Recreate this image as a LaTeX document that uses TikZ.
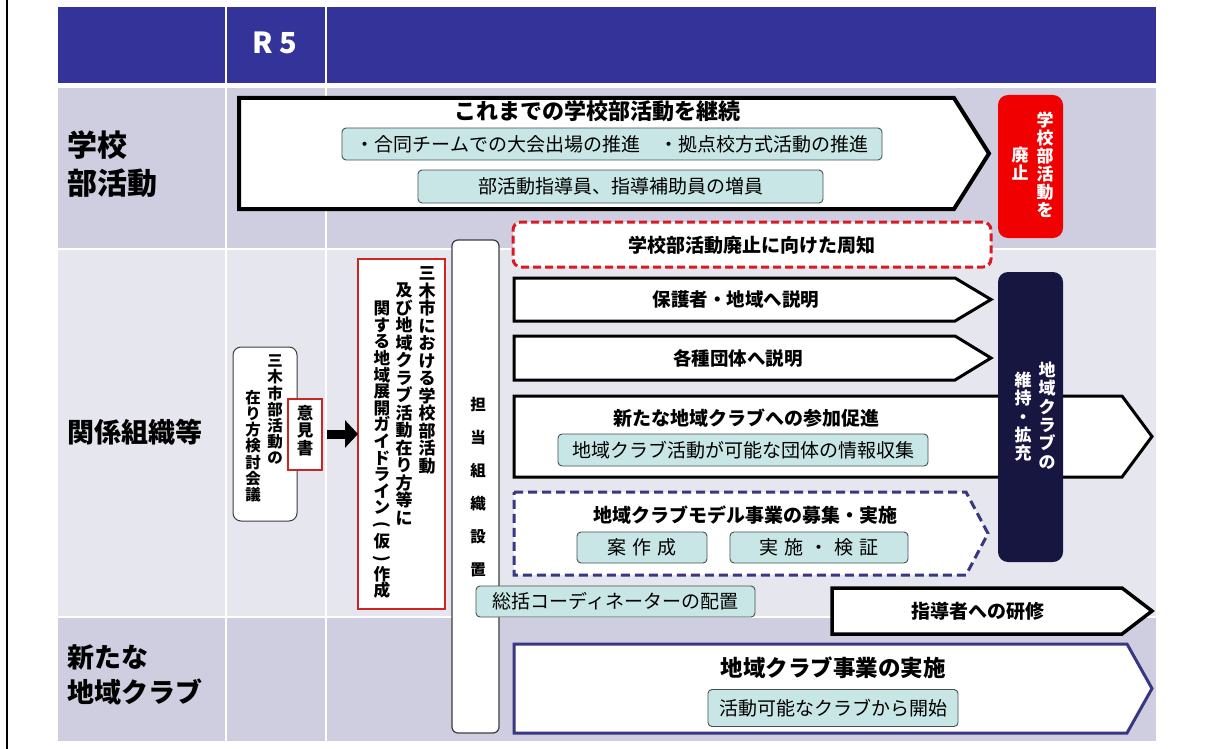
\documentclass[tikz,border=0pt]{standalone}
\usepackage{graphicx}
\usepackage{fontspec}
\setmainfont{Noto Sans CJK JP}
\usetikzlibrary{arrows.meta}
\definecolor{hdr}{RGB}{51,51,153}
\definecolor{rowA}{RGB}{206,206,224}
\definecolor{rowB}{RGB}{230,230,239}
\definecolor{tealf}{RGB}{200,230,230}
\definecolor{tealb}{RGB}{70,80,80}
\definecolor{redbox}{RGB}{240,0,0}
\definecolor{navybox}{RGB}{22,22,64}
\definecolor{navyline}{RGB}{55,55,130}
\definecolor{reddash}{RGB}{220,25,35}
\definecolor{redline}{RGB}{205,35,35}
\definecolor{grayline}{RGB}{60,60,60}
\newcommand{\vparo}{\rotatebox[origin=c]{-90}{(}}
\newcommand{\vparc}{\rotatebox[origin=c]{-90}{)}}
\begin{document}
\begin{tikzpicture}[x=1pt,y=-1pt,
  every node/.style={inner sep=0pt, outer sep=0pt},
  tealbox/.style={draw=tealb, fill=tealf, line width=0.9pt, rounded corners=4pt, font=\fontsize{19}{19}\selectfont},
  arrowshape/.style={draw=black, fill=white, line width=3pt, line join=miter},
  btitle/.style={font=\fontsize{19}{19}\selectfont\bfseries},
  vtxt/.style={align=center, anchor=north},
  rowlabel/.style={anchor=west, align=left, font=\fontsize{27}{35}\selectfont\bfseries},
]
\useasboundingbox (0,0) rectangle (1215,749);
\fill[white] (0,0) rectangle (1215,749);

% header and rows
\fill[hdr] (58,7) rectangle (1156,83);
\fill[rowA] (58,88) rectangle (1156,248);
\fill[rowB] (58,250) rectangle (1156,616);
\fill[rowA] (58,618) rectangle (1156,741);
\draw[white, line width=2pt] (225.5,7) -- (225.5,741) (326,7) -- (326,741);
\node[text=white, font=\fontsize{29}{29}\selectfont\bfseries] (r5) at (275,43) {R 5};

% row labels
\node[rowlabel, font=\fontsize{30}{38}\selectfont\bfseries] (lab1) at (67,164) {学校\\部活動};
\node[rowlabel] (lab2) at (67,432) {関係組織等};
\node[rowlabel] (lab3) at (67,675) {新たな\\地域クラブ};

% row 1
\draw[arrowshape, line width=4pt] (239,98) -- (954,98) -- (989,153.5) -- (954,209) -- (239,209) -- cycle;
\node[font=\fontsize{22}{22}\selectfont\bfseries] (cont) at (597,111) {これまでの学校部活動を継続};
\node[tealbox, minimum width=540pt, minimum height=32pt] (t1) at (612,144) {・合同チームでの大会出場の推進　・拠点校方式活動の推進};
\node[tealbox, minimum width=405pt, minimum height=33pt] (t2) at (620.5,186.5) {部活動指導員、指導補助員の増員};
\node[fill=redbox, rounded corners=10pt, minimum width=65pt, minimum height=143pt] (haishi) at (1030.5,166.5) {};
\node[vtxt, text=white, font=\fontsize{17}{18}\selectfont\bfseries] (haishiA) at (1045,112) {学\\校\\部\\活\\動\\を};
\node[vtxt, text=white, font=\fontsize{17}{18}\selectfont\bfseries] (haishiB) at (1020,147) {廃\\止};

% row 2
\node[draw=reddash, dash pattern=on 8pt off 4pt, line width=3pt, fill=white, rounded corners=8pt, minimum width=478pt, minimum height=45pt] (shuchi) at (752,244.5) {};
\node[btitle] (shuchiT) at (752,245) {学校部活動廃止に向けた周知};

\draw[arrowshape] (514,278) -- (955,278) -- (991,299.5) -- (955,321) -- (514,321) -- cycle;
\node[btitle, font=\fontsize{18.5}{18.5}\selectfont\bfseries] (hogo) at (736,300) {保護者・地域へ説明};
\draw[arrowshape] (514,336) -- (955,336) -- (991,358) -- (955,380) -- (514,380) -- cycle;
\node[btitle, font=\fontsize{18.5}{18.5}\selectfont\bfseries] (dantai) at (738,358) {各種団体へ説明};
\draw[arrowshape] (514,396) -- (1122,396) -- (1152,436.5) -- (1122,477) -- (514,477) -- cycle;
\node[btitle] (sanka) at (746,418) {新たな地域クラブへの参加促進};
\node[tealbox, minimum width=370pt, minimum height=32pt] (joho) at (743,450) {地域クラブ活動が可能な団体の情報収集};

\node[fill=navybox, rounded corners=10pt, minimum width=65pt, minimum height=290pt] (iji) at (1030.5,417) {};
\node[vtxt, text=white, font=\fontsize{17}{18.3}\selectfont\bfseries] (ijiA) at (1047,362) {地\\域\\ク\\ラ\\ブ\\の};
\node[vtxt, text=white, font=\fontsize{17}{18.3}\selectfont\bfseries] (ijiB) at (1023,372) {維\\持\\・\\拡\\充};

\draw[draw=navyline, fill=white, line width=3pt, dash pattern=on 9pt off 5pt] (514,492) -- (966,492) -- (988,533.5) -- (966,575) -- (514,575) -- cycle;
\node[btitle] (model) at (745,515) {地域クラブモデル事業の募集・実施};
\node[tealbox, minimum width=130pt, minimum height=31pt] (an) at (642,547.5) {案\hspace{6pt}作\hspace{6pt}成};
\node[tealbox, minimum width=178pt, minimum height=31pt] (jisshi) at (819,547.5) {実\hspace{6pt}施\hspace{6pt}・\hspace{6pt}検\hspace{6pt}証};

% tanto box
\node[draw=grayline, fill=white, line width=1.2pt, rounded corners=6pt, minimum width=47pt, minimum height=493pt] (tanto) at (475.5,486.5) {};
\node[vtxt, font=\fontsize{15.5}{33}\selectfont\bfseries] (tantoT) at (478,397) {担\\当\\組\\織\\設\\置};
\node[tealbox, minimum width=279pt, minimum height=31pt] (sokatsu) at (615.5,601.5) {総括コーディネーターの配置};

\draw[arrowshape, line width=3.5pt] (832,588) -- (1122,588) -- (1152,611) -- (1122,634) -- (832,634) -- cycle;
\node[btitle] (kenshu) at (978,611) {指導者への研修};

% row 3
\draw[draw=navyline, fill=white, line width=3pt, line join=miter] (514,644) -- (1127,644) -- (1152,688.5) -- (1127,733) -- (514,733) -- cycle;
\node[font=\fontsize{22.5}{22.5}\selectfont\bfseries] (jigyo) at (833,668) {地域クラブ事業の実施};
\node[tealbox, minimum width=250pt, minimum height=37pt] (kaishi) at (833,708) {活動可能なクラブから開始};

% left column of row 2
\node[draw=grayline, fill=white, line width=1pt, rounded corners=8pt, minimum width=64pt, minimum height=174pt] (kento) at (265,434) {};
\node[vtxt, font=\fontsize{15.5}{16.2}\selectfont\bfseries] (kentoA) at (275,355) {三\\木\\市\\部\\活\\動\\の};
\node[vtxt, font=\fontsize{15.5}{16.2}\selectfont\bfseries] (kentoB) at (253,390) {在\\り\\方\\検\\討\\会\\議};
\node[draw=redline, fill=white, line width=2pt, minimum width=34pt, minimum height=71pt] (iken) at (305,434) {};
\node[vtxt, font=\fontsize{16.5}{17.5}\selectfont\bfseries] (ikenT) at (305,405) {意\\見\\書};

\node[draw=redline, fill=white, line width=2.5pt, minimum width=87pt, minimum height=350pt] (guide) at (401.5,434) {};
\node[vtxt, font=\fontsize{17}{17.5}\selectfont\bfseries] (guideA) at (427,267) {三\\木\\市\\に\\お\\け\\る\\学\\校\\部\\活\\動};
\node[vtxt, font=\fontsize{17}{17.5}\selectfont\bfseries] (guideB) at (404,283) {及\\び\\地\\域\\ク\\ラ\\ブ\\活\\動\\在\\り\\方\\等\\に};
\node[vtxt, font=\fontsize{16.6}{16.6}\selectfont\bfseries] (guideC) at (382,301) {関\\す\\る\\地\\域\\展\\開\\ガ\\イ\\ド\\ラ\\イ\\ン\\\vparo\\仮\\\vparc\\作\\成};

\draw[line width=9pt, -{Triangle[length=13pt, width=27pt]}, shorten <=5pt] (iken.east) -- (iken.east -| guide.west);

% frame line
\draw[line width=2pt] (6.5,0) -- (6.5,749);
\end{tikzpicture}
\end{document}
